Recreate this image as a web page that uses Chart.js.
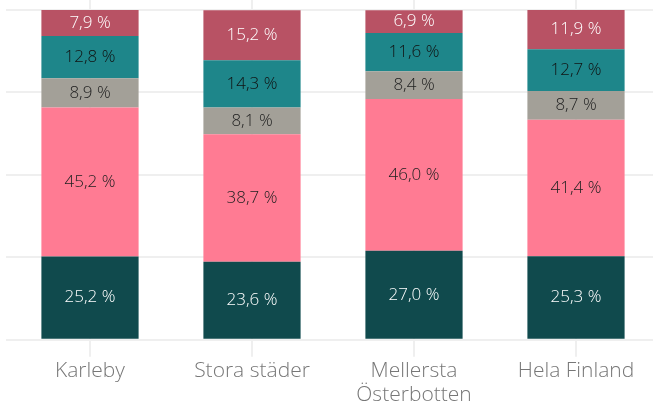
<!DOCTYPE html>
<html>
<head>
<meta charset="utf-8">
<script src="https://cdn.jsdelivr.net/npm/chart.js@4"></script>
<style>
  html, body { margin: 0; padding: 0; background: #fff; overflow: hidden; }
  #wrap { position: relative; width: 657px; height: 409px; }
</style>
</head>
<body>
<div id="wrap"><canvas id="grafico"></canvas></div>
<script>
/* Data */
const kategorier = ["Karleby", "Stora städer", ["Mellersta", "Österbotten"], "Hela Finland"];
const serie1 = [25.2, 23.6, 27.0, 25.3];
const serie2 = [45.2, 38.7, 46.0, 41.4];
const serie3 = [8.9, 8.1, 8.4, 8.7];
const serie4 = [12.8, 14.3, 11.6, 12.7];
const serie5 = [7.9, 15.2, 6.9, 11.9];
const yTicks = [0, 25, 50, 75, 100];

const farger = ["#104a4d", "#ff7b93", "#a3a098", "#1e868a", "#b85264"];
const textFarger = ["#ffffff", "#222222", "#222222", "#111111", "#ffffff"];

/* Etiketter i staplarna */
const etiketter = {
  id: "etiketter",
  afterDatasetsDraw(chart) {
    const ctx = chart.ctx;
    ctx.save();
    ctx.font = "300 17px 'Open Sans'";
    ctx.textAlign = "center";
    ctx.textBaseline = "middle";
    chart.data.datasets.forEach((ds, i) => {
      const meta = chart.getDatasetMeta(i);
      meta.data.forEach((bar, j) => {
        const v = ds.data[j];
        const y = (bar.y + bar.base) / 2;
        ctx.fillStyle = textFarger[i];
        ctx.fillText(v.toFixed(1).replace(".", ",") + " %", bar.x, y);
      });
    });
    ctx.restore();
  }
};

const serier = [serie1, serie2, serie3, serie4, serie5];

new Chart(document.getElementById("grafico"), {
  type: "bar",
  data: {
    labels: kategorier,
    datasets: serier.map((d, i) => ({
      label: "Serie " + (i + 1),
      data: d,
      backgroundColor: farger[i],
      borderWidth: 0,
      categoryPercentage: 1,
      barPercentage: 0.6
    }))
  },
  options: {
    responsive: true,
    maintainAspectRatio: false,
    animation: false,
    layout: { padding: { left: 6, right: 0, top: 0, bottom: 0 } },
    plugins: {
      legend: { display: false },
      tooltip: { enabled: false }
    },
    scales: {
      x: {
        stacked: true,
        border: { display: false },
        grid: {
          offset: false,
          color: "#efefef",
          lineWidth: 2,
          tickLength: 17
        },
        ticks: {
          color: "#777777",
          font: { family: "'Open Sans'", size: 21, weight: "300", lineHeight: 1.15 },
          padding: 2,
          maxRotation: 0,
          autoSkip: false
        }
      },
      y: {
        stacked: true,
        min: 0,
        max: 103,
        border: { display: false },
        afterBuildTicks: (axis) => { axis.ticks = yTicks.map(v => ({ value: v })); },
        grid: {
          color: "#efefef",
          lineWidth: 2,
          tickLength: 3
        },
        ticks: { display: false }
      }
    }
  },
  plugins: [etiketter]
});
</script>
</body>
</html>
